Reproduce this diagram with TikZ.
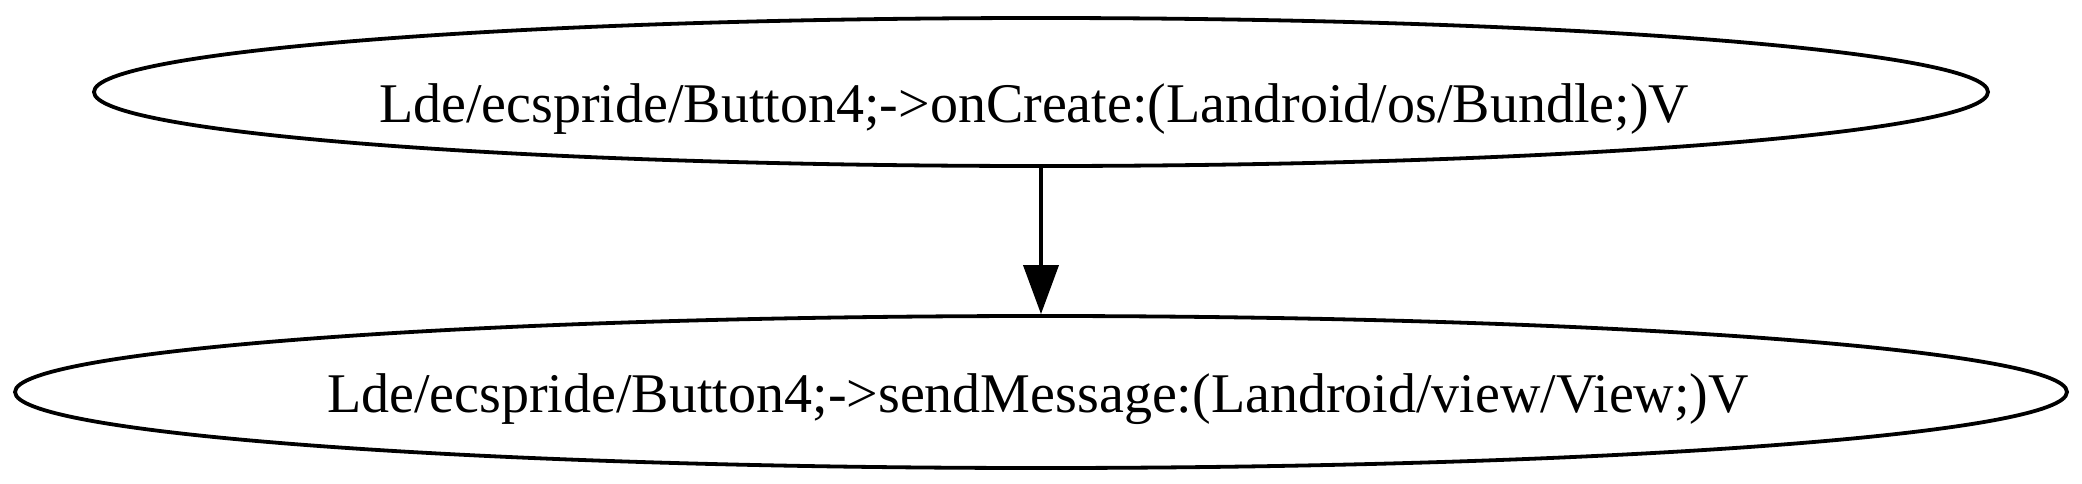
\documentclass[tikz,border=0pt]{standalone}
\usepackage{fontspec}
\setmainfont{Liberation Serif}
\usetikzlibrary{shapes.geometric,arrows.meta}
\begin{document}
\begin{tikzpicture}[x=0.25pt,y=-0.25pt,
  fn/.style={draw,ellipse,line width=0.95pt,inner sep=0pt},
  lbl/.style={anchor=base,inner sep=0pt,font=\fontsize{14}{16}\selectfont},
  edge/.style={line width=0.95pt,-{Triangle[length=12.25pt,width=8.75pt]}}]
\useasboundingbox (0,0) rectangle (2082,483);
\node[fn,minimum width=473.5pt,minimum height=37pt] (a) at (1041,92) {};
\node[fn,minimum width=513pt,minimum height=38pt] (b) at (1041,392) {};
\node[lbl] (ta) at (1034,122) {Lde/ecspride/Button4;->onCreate:(Landroid/os/Bundle;)V};
\node[lbl] (tb) at (1038,412) {Lde/ecspride/Button4;->sendMessage:(Landroid/view/View;)V};
\draw[edge] (a.south) -- (b.north);
\end{tikzpicture}
\end{document}
